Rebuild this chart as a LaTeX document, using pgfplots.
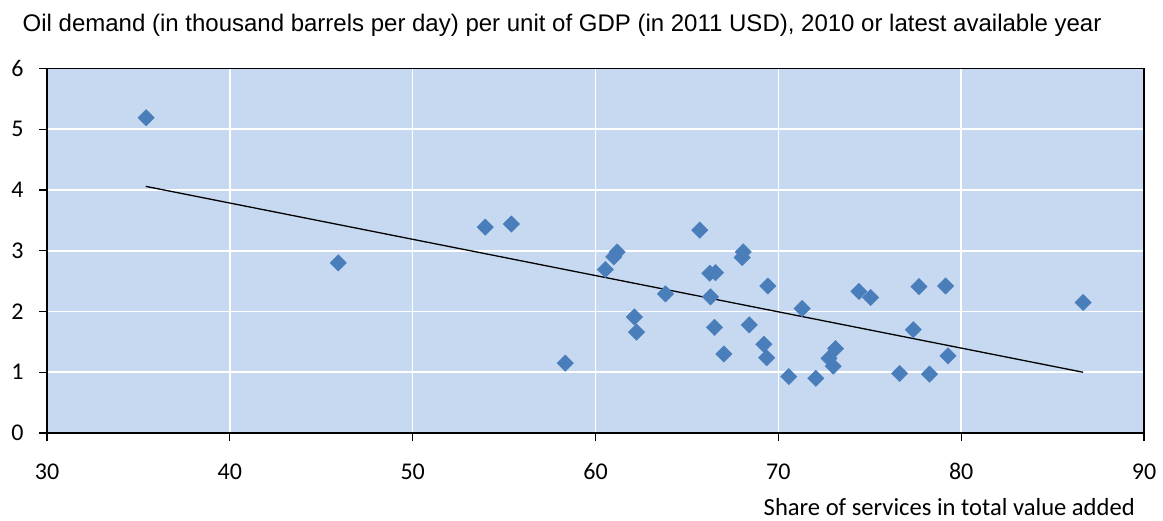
\documentclass[border=0pt]{standalone}
\usepackage{pgfplots}
\pgfplotsset{compat=1.18}
\usepackage{fontspec}
\setmainfont{Carlito}
\newfontfamily\arialf{Liberation Sans}
\definecolor{bgc}{HTML}{C6D9F1}
\definecolor{mk}{HTML}{4A7EBB}
\begin{document}
\begin{tikzpicture}
\begin{axis}[
  scale only axis, width=1097pt, height=364.5pt,
  xmin=30, xmax=90, ymin=0, ymax=6,
  xtick={30,40,...,90}, ytick={0,1,...,6},
  xtick pos=bottom, ytick pos=left,
  axis background/.style={fill=bgc},
  grid=major, major grid style={white, line width=1.6pt},
  axis line style={black, line width=1.5pt},
  tick align=outside, major tick length=8pt,
  tick style={black, line width=1.2pt},
  every tick label/.append style={font=\fontsize{24}{26}\selectfont},
  /pgf/number format/assume math mode=true,
  xticklabel style={yshift=-19pt},
  yticklabel style={xshift=-12pt},
  clip=false,
]
\addplot[only marks, mark=square*, mark size=5.8pt, mark options={rotate=45, fill=mk, draw=mk}] coordinates {
(35.42,5.19) (45.93,2.80) (53.97,3.39) (55.40,3.44) (58.35,1.15)
(60.54,2.69) (61.00,2.90) (61.18,2.98) (62.13,1.91) (62.24,1.66)
(63.83,2.29) (65.70,3.34) (66.25,2.63) (66.56,2.64) (66.29,2.24)
(66.51,1.74) (67.02,1.30) (68.08,2.98) (68.02,2.89) (68.41,1.78)
(69.43,2.42) (69.21,1.46) (69.36,1.24) (70.57,0.93) (71.30,2.05)
(72.05,0.90) (73.13,1.39) (72.77,1.23) (73.00,1.10) (74.41,2.33)
(75.05,2.23) (77.69,2.41) (79.15,2.42) (86.67,2.15) (77.38,1.70)
(79.28,1.27) (76.63,0.98) (78.27,0.97)
};
\addplot[black, line width=1.3pt] coordinates {(35.40,4.06) (86.67,1.00)};
\node[anchor=base west, xshift=-24.5pt, yshift=36.5pt, inner sep=0pt, font=\arialf\fontsize{24}{26}\selectfont]
  at (rel axis cs:0,1) {Oil demand (in thousand barrels per day) per unit of GDP (in 2011 USD), 2010 or latest available year};
\node[anchor=base east, xshift=-9pt, yshift=-82pt, inner sep=0pt, font=\fontsize{24.6}{26}\selectfont]
  at (rel axis cs:1,0) {Share of services in total value added};
\coordinate (sw) at (rel axis cs:0,0);
\coordinate (ne) at (rel axis cs:1,1);
\end{axis}
\pgfresetboundingbox
\path ([shift={(-47pt,-87pt)}]sw) rectangle ([shift={(19pt,68.5pt)}]ne);
\end{tikzpicture}
\end{document}
